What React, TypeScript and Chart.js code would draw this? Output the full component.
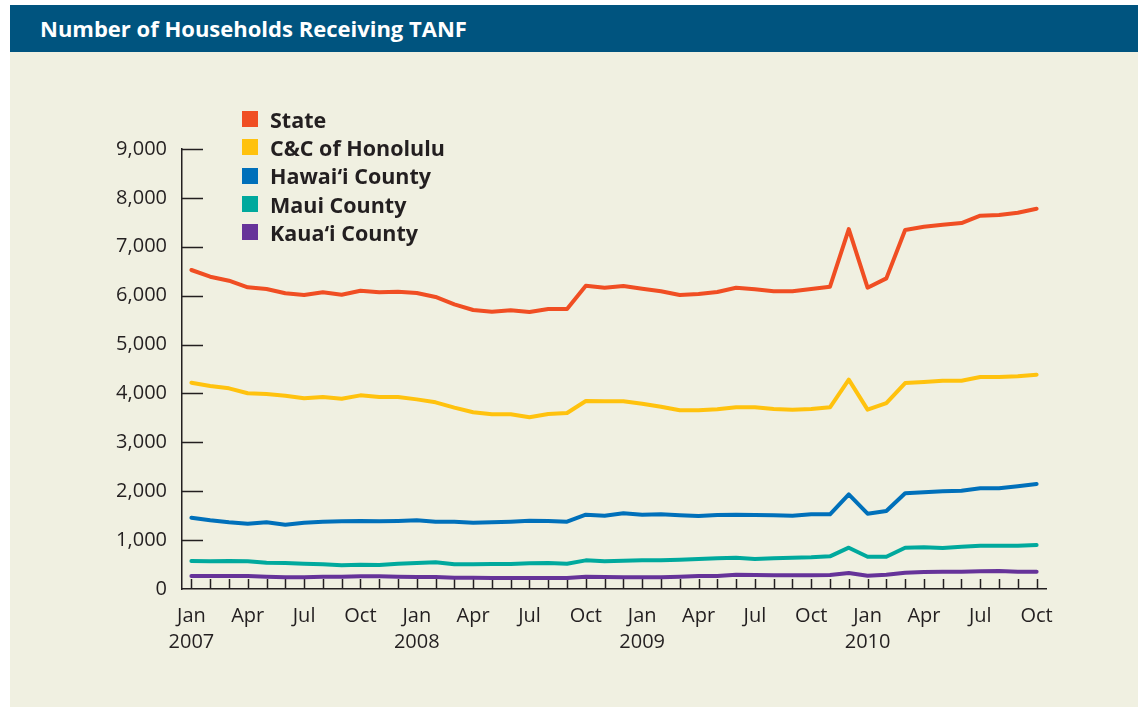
import React, { useEffect, useRef } from "react";
import { Chart, registerables } from "chart.js";

Chart.register(...registerables);

const categories = [
  "Jan 2007", "Feb 2007", "Mar 2007", "Apr 2007", "May 2007", "Jun 2007",
  "Jul 2007", "Aug 2007", "Sep 2007", "Oct 2007", "Nov 2007", "Dec 2007",
  "Jan 2008", "Feb 2008", "Mar 2008", "Apr 2008", "May 2008", "Jun 2008",
  "Jul 2008", "Aug 2008", "Sep 2008", "Oct 2008", "Nov 2008", "Dec 2008",
  "Jan 2009", "Feb 2009", "Mar 2009", "Apr 2009", "May 2009", "Jun 2009",
  "Jul 2009", "Aug 2009", "Sep 2009", "Oct 2009", "Nov 2009", "Dec 2009",
  "Jan 2010", "Feb 2010", "Mar 2010", "Apr 2010", "May 2010", "Jun 2010",
  "Jul 2010", "Aug 2010", "Sep 2010", "Oct 2010",
];

const stateValues = [
  6525, 6388, 6306, 6170, 6136, 6048, 6013, 6069, 6020, 6102, 6069, 6082,
  6054, 5973, 5823, 5707, 5672, 5700, 5666, 5727, 5727, 6204, 6163, 6198,
  6143, 6089, 6013, 6034, 6075, 6163, 6129, 6089, 6089, 6136, 6184, 7363,
  6163, 6354, 7343, 7411, 7452, 7486, 7636, 7650, 7697, 7779,
];

const honoluluValues = [
  4220, 4152, 4105, 4003, 3989, 3954, 3900, 3927, 3893, 3961, 3927, 3927,
  3879, 3818, 3709, 3614, 3573, 3573, 3512, 3580, 3600, 3845, 3839, 3839,
  3791, 3729, 3655, 3655, 3675, 3716, 3716, 3682, 3668, 3682, 3716, 4282,
  3668, 3804, 4213, 4234, 4261, 4261, 4336, 4336, 4350, 4384,
];

const hawaiiValues = [
  1459, 1405, 1364, 1336, 1364, 1316, 1357, 1377, 1384, 1391, 1384, 1391,
  1405, 1377, 1377, 1357, 1364, 1377, 1398, 1391, 1377, 1520, 1500, 1548,
  1520, 1527, 1507, 1493, 1514, 1520, 1514, 1507, 1500, 1527, 1527, 1936,
  1541, 1595, 1957, 1977, 1998, 2011, 2059, 2059, 2100, 2148,
];

const mauiValues = [
  573, 566, 573, 566, 539, 532, 518, 505, 484, 498, 491, 518,
  532, 546, 505, 505, 511, 511, 525, 532, 518, 586, 566, 580,
  586, 586, 600, 614, 627, 641, 614, 627, 641, 648, 668, 845,
  661, 661, 845, 852, 838, 866, 886, 886, 886, 900,
];

const kauaiValues = [
  266, 266, 266, 266, 252, 239, 239, 252, 252, 259, 259, 252,
  245, 245, 232, 232, 225, 225, 225, 225, 225, 252, 245, 239,
  239, 239, 252, 266, 266, 293, 286, 279, 279, 279, 286, 327,
  273, 293, 334, 348, 354, 354, 361, 368, 354, 354,
];

const seriesNames = ["State", "C&C of Honolulu", "Hawai\u2018i County", "Maui County", "Kaua\u2018i County"];
const seriesColors = ["#f04e23", "#ffc20e", "#0070ba", "#00a99d", "#663399"];
const seriesValues = [stateValues, honoluluValues, hawaiiValues, mauiValues, kauaiValues];

const yTickValues = [0, 1000, 2000, 3000, 4000, 5000, 6000, 7000, 8000, 9000];
const shownMonths = ["Jan", "Apr", "Jul", "Oct"];

const TEXT = "#231f20";
const FONT = "'Open Sans', 'DejaVu Sans', sans-serif";

const innerTicks = {
  id: "innerTicks",
  beforeDatasetsDraw(chart: any) {
    const { ctx, chartArea, scales } = chart;
    const xs = scales.x;
    const ys = scales.y;
    ctx.save();
    ctx.strokeStyle = TEXT;
    ctx.lineWidth = 1.5;
    ctx.beginPath();
    for (let i = 0; i < categories.length; i++) {
      const x = Math.round(xs.getPixelForValue(i)) + 0.5;
      ctx.moveTo(x, chartArea.bottom);
      ctx.lineTo(x, chartArea.bottom - 10);
    }
    for (const v of yTickValues) {
      if (v === 0) continue;
      const y = Math.round(ys.getPixelForValue(v)) + 0.5;
      ctx.moveTo(chartArea.left, y);
      ctx.lineTo(chartArea.left + 21, y);
    }
    ctx.stroke();
    ctx.restore();
  },
};

function ChartCanvas() {
  const ref = useRef<HTMLCanvasElement | null>(null);
  useEffect(() => {
    if (!ref.current) return;
    const chart = new Chart(ref.current, {
      type: "line",
      data: {
        labels: categories,
        datasets: seriesValues.map((vals, i) => ({
          label: seriesNames[i],
          data: vals,
          borderColor: seriesColors[i],
          backgroundColor: seriesColors[i],
          borderWidth: 4,
          pointRadius: 0,
          tension: 0,
          fill: false,
          borderJoinStyle: "round" as const,
          borderCapStyle: "round" as const,
        })),
      },
      options: {
        animation: false,
        responsive: false,
        maintainAspectRatio: false,
        layout: { padding: { top: 97, right: 92, bottom: 0, left: 0 } },
        plugins: { legend: { display: false }, tooltip: { enabled: false } },
        scales: {
          x: {
            type: "category",
            offset: true,
            grid: { display: false, drawTicks: false, offset: true },
            border: { display: true, color: TEXT, width: 1.5 },
            afterFit: (s: any) => { s.height = 118; },
            ticks: {
              autoSkip: false,
              maxRotation: 0,
              minRotation: 0,
              padding: 14,
              color: TEXT,
              font: { family: FONT, size: 20, lineHeight: 1.3 },
              callback: function (this: any, _v: any, idx: number) {
                const [m, y] = categories[idx].split(" ");
                if (m === "Jan") return [m, y];
                if (shownMonths.includes(m)) return m;
                return "";
              },
            },
          },
          y: {
            min: 0,
            max: 9000,
            afterFit: (s: any) => { s.width = 172; },
            afterBuildTicks: (s: any) => { s.ticks = yTickValues.map((v) => ({ value: v })); },
            grid: { display: false, drawTicks: false },
            border: { display: true, color: TEXT, width: 1.5 },
            ticks: {
              padding: 15,
              color: TEXT,
              font: { family: FONT, size: 20 },
              callback: (v: any) => Number(v).toLocaleString("en-US"),
            },
          },
        },
      },
      plugins: [innerTicks],
    });
    return () => chart.destroy();
  }, []);
  return <canvas ref={ref} width={1128} height={655} style={{ display: "block", width: 1128, height: 655 }} />;
}

export default function App() {
  return (
    <div style={{ position: "fixed", left: 0, top: 0, width: 1138, height: 707, background: "#ffffff" }}>
      <div style={{ position: "absolute", left: 10, top: 5, width: 1128, height: 47, background: "#00547f" }}>
        <div style={{ position: "absolute", left: 30, top: 0, height: 47, lineHeight: "47px", color: "#ffffff", fontFamily: FONT, fontWeight: 700, fontSize: 22, whiteSpace: "nowrap" }}>
          Number of Households Receiving TANF
        </div>
      </div>
      <div style={{ position: "absolute", left: 10, top: 52, width: 1128, height: 655, background: "#f0f0e1" }}>
        <ChartCanvas />
        <div style={{ position: "absolute", left: 232, top: 53 }}>
          {seriesNames.map((n, i) => (
            <div key={n} style={{ display: "flex", alignItems: "center", height: 28.3 }}>
              <div style={{ width: 16, height: 16, background: seriesColors[i], marginRight: 12 }} />
              <span style={{ fontFamily: FONT, fontWeight: 700, fontSize: 21.5, color: TEXT, whiteSpace: "nowrap" }}>{n}</span>
            </div>
          ))}
        </div>
      </div>
    </div>
  );
}
